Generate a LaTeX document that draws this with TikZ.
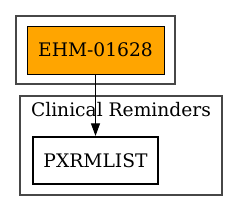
\documentclass[tikz,border=0pt]{standalone}
\usepackage{fontspec}
\setmainfont{DejaVu Serif}
\usetikzlibrary{arrows.meta}
\begin{document}
\begin{tikzpicture}[x=0.75pt,y=-0.75pt,
  cluster/.style={draw=black!72,line width=0.9pt,inner sep=0pt,anchor=center},
  box/.style={draw=black,inner sep=0pt,anchor=center,font=\fontsize{14}{17}\selectfont},
  edge/.style={draw=black,line width=0.8pt,-{Triangle[length=9.5pt,width=6.8pt]}}]
\useasboundingbox (0,0) rectangle (239,212);
\node[cluster,minimum width=159*0.75pt,minimum height=68*0.75pt] (c1) at (95.5,50) {};
\node[cluster,minimum width=202*0.75pt,minimum height=99*0.75pt] (c2) at (121,145.5) {};
\node[anchor=base,font=\fontsize{14}{17}\selectfont,inner sep=0pt] (lbl) at (121,116) {Clinical Reminders};
\node[box,fill={rgb,255:red,255;green,165;blue,0},line width=0.75pt,minimum width=137*0.75pt,minimum height=48*0.75pt] (ehm) at (95.5,50) {EHM-01628};
\node[box,fill=white,line width=1.6pt,minimum width=125*0.75pt,minimum height=47*0.75pt] (px) at (95.5,160.5) {PXRMLIST};
\draw[edge] (ehm) -- (px);
\end{tikzpicture}
\end{document}
